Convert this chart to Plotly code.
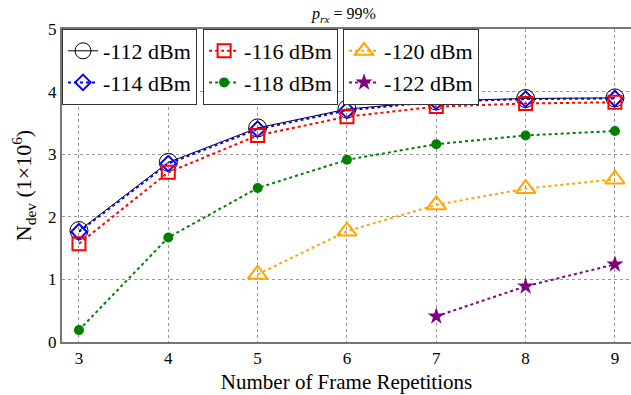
import plotly.graph_objects as go

reps = [3, 4, 5, 6, 7, 8, 9]
n_112 = [1.78, 2.87, 3.42, 3.72, 3.85, 3.89, 3.90]
n_114 = [1.76, 2.85, 3.40, 3.70, 3.84, 3.88, 3.89]
n_116 = [1.57, 2.71, 3.30, 3.60, 3.76, 3.81, 3.83]
n_118 = [0.19, 1.67, 2.46, 2.91, 3.16, 3.30, 3.37]
reps_120 = [5, 6, 7, 8, 9]
n_120 = [1.08, 1.77, 2.19, 2.45, 2.60]
reps_122 = [7, 8, 9]
n_122 = [0.41, 0.89, 1.24]

FONT = "Liberation Serif"
fig = go.Figure()

def add(x, y, name, color, dash, width, symbol, size, mwidth, legend):
    fig.add_trace(go.Scatter(
        x=x, y=y, name=name, mode="lines+markers", legend=legend,
        line=dict(color=color, dash=dash, width=width),
        marker=dict(symbol=symbol, size=size, color=color,
                    line=dict(color=color, width=mwidth)),
    ))

add(reps, n_112, "-112 dBm", "black", "solid", 1, "circle-open", 18, 1, "legend")
add(reps, n_114, "-114 dBm", "blue", "dot", 2, "diamond-open", 12, 2, "legend")
add(reps, n_116, "-116 dBm", "red", "dot", 2, "square-open", 13, 2, "legend2")
add(reps, n_118, "-118 dBm", "green", "dot", 2, "circle", 10, 0, "legend2")
add(reps_120, n_120, "-120 dBm", "orange", "dot", 2, "triangle-up-open", 17, 2, "legend3")
add(reps_122, n_122, "-122 dBm", "purple", "dot", 2, "star", 13, 0, "legend3")

leg = dict(yanchor="top", y=1, xanchor="left", bgcolor="white",
           bordercolor="#333", borderwidth=1,
           font=dict(family=FONT, size=22, color="black"),
           tracegroupgap=0)

fig.update_layout(
    width=631, height=395,
    margin=dict(l=62, r=0, t=29, b=53),
    plot_bgcolor="white", paper_bgcolor="white",
    font=dict(family=FONT, color="black"),
    title=dict(text="<i>p</i><sub><i>rx</i></sub> = 99%", x=0.545, xanchor="center",
               y=0.965, yanchor="middle", font=dict(family=FONT, size=16)),
    legend=dict(leg, x=0),
    legend2=dict(leg, x=0.248),
    legend3=dict(leg, x=0.494),
    xaxis=dict(range=[2.81, 9.18], tickvals=reps, ticktext=[str(v) for v in reps],
               showgrid=True, gridcolor="#999", griddash="dot", gridwidth=1,
               showline=True, linecolor="#777", linewidth=2, mirror=True,
               zeroline=False, ticks="",
               tickfont=dict(family=FONT, size=17),
               title=dict(text="Number of Frame Repetitions", font=dict(family=FONT, size=21),
                          standoff=7)),
    yaxis=dict(range=[0, 5], tickvals=[0, 1, 2, 3, 4, 5],
               showgrid=True, gridcolor="#999", griddash="dot", gridwidth=1,
               showline=True, linecolor="#777", linewidth=2,
               zeroline=False, ticks="",
               tickfont=dict(family=FONT, size=17),
               title=dict(text="N<sub>dev</sub> (1×10<sup>6</sup>)", font=dict(family=FONT, size=22),
                          standoff=10)),
)

fig.write_html("out.html")
